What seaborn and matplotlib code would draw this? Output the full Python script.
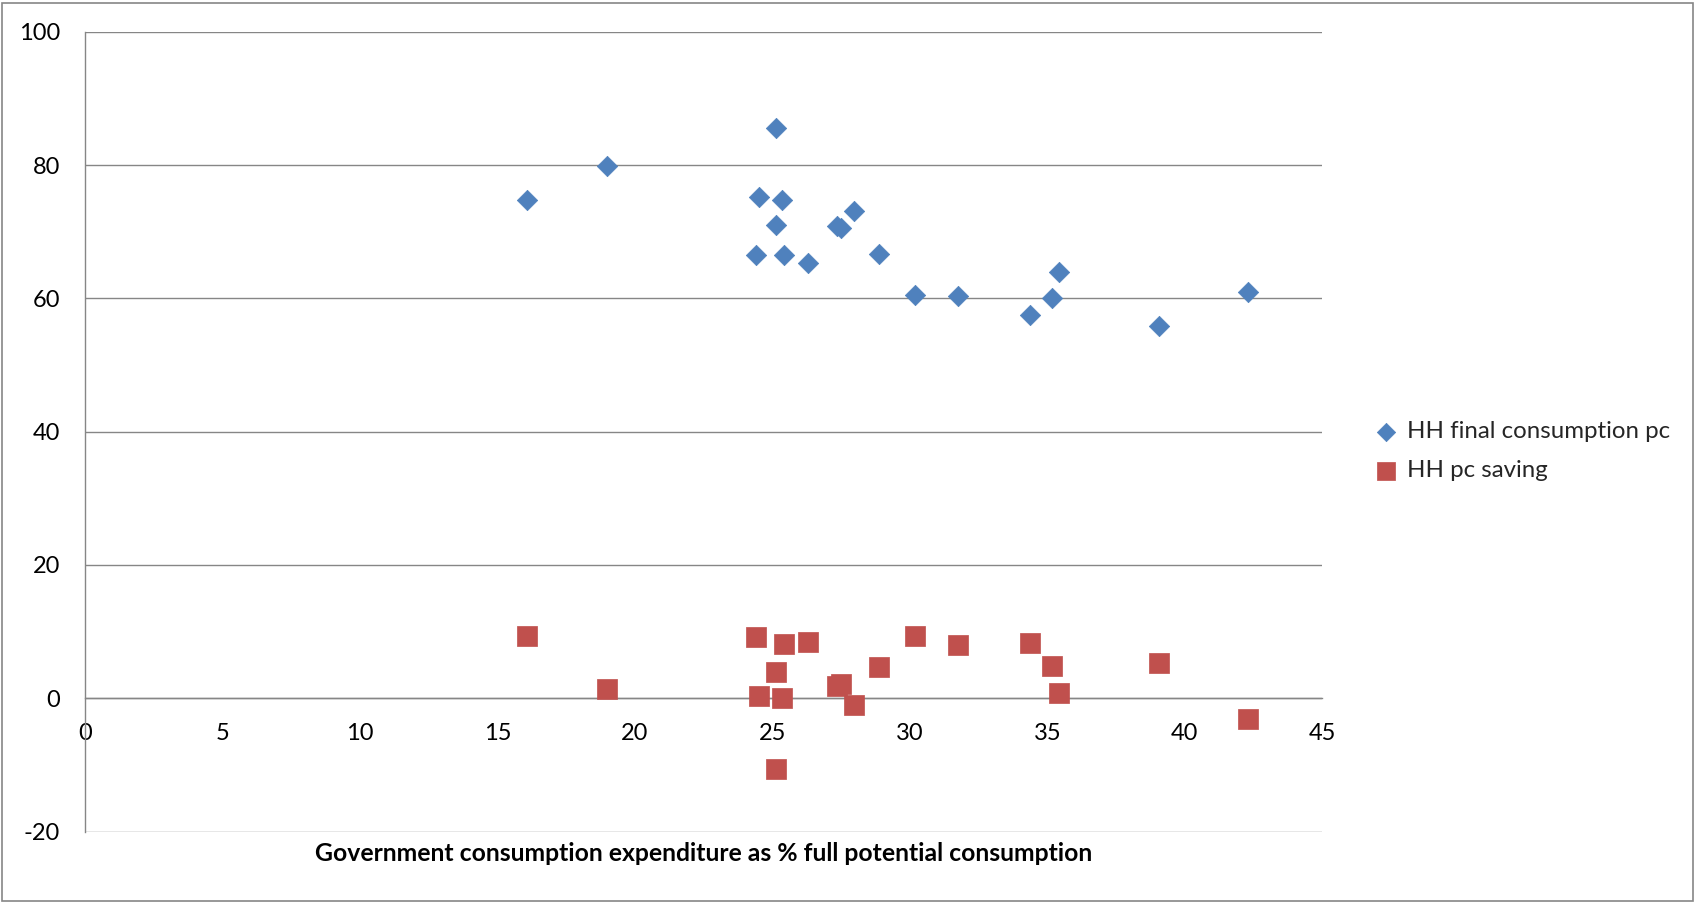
import matplotlib
matplotlib.use("Agg")
import matplotlib.pyplot as plt
from matplotlib.patches import Rectangle
import seaborn as sns
import pandas as pd

# Government consumption expenditure as % of full potential consumption
gov_share = [16.09, 18.98, 24.41, 24.50, 25.13, 25.12, 25.34, 25.41, 26.31, 27.34,
             27.50, 27.96, 28.87, 30.19, 31.75, 34.37, 35.16, 35.44, 39.05, 42.31]
# Household final consumption, % of full potential consumption
hh_consumption = [74.7, 79.9, 66.5, 75.2, 85.5, 71.0, 74.7, 66.5, 65.3, 70.8,
                  70.5, 73.1, 66.6, 60.5, 60.3, 57.5, 60.1, 63.9, 55.8, 60.9]
# Household saving, % of full potential consumption
hh_saving = [9.3, 1.35, 9.15, 0.35, 4.0, -10.6, 0.0, 8.15, 8.4, 1.85,
             2.1, -1.0, 4.65, 9.35, 8.05, 8.25, 4.9, 0.75, 5.25, -3.15]

x_ticks = [0, 5, 10, 15, 20, 25, 30, 35, 40, 45]
y_ticks = [-20, 0, 20, 40, 60, 80, 100]

series_names = ["HH final consumption pc", "HH pc saving"]
x_title = "Government consumption expenditure as % full potential consumption"

df = pd.DataFrame({"gov": gov_share, "cons": hh_consumption, "sav": hh_saving})

sns.set_theme(style="white")
plt.rcParams["font.family"] = ["Lato", "DejaVu Sans"]

BLUE = "#4F81BD"
RED = "#C0504D"
GRID = "#868686"

W, H = 1695, 902
fig = plt.figure(figsize=(W / 100, H / 100), dpi=100)
fig.patch.set_facecolor("white")

# plot area in pixel terms: x 0..45 spans 84.8..1322.3, y -20..100 spans 831.6..31.7
left, right, top, bottom = 84.8, 1322.3, 31.7, 831.6
ax = fig.add_axes([left / W, 1 - bottom / H, (right - left) / W, (bottom - top) / H])

sns.scatterplot(data=df, x="gov", y="cons", marker="D", s=108, color=BLUE,
                edgecolor=BLUE, linewidth=0.5, label=series_names[0], ax=ax, zorder=3)
sns.scatterplot(data=df, x="gov", y="sav", marker="s", s=210, color=RED,
                edgecolor=RED, linewidth=0.5, label=series_names[1], ax=ax, zorder=4)

ax.set_xlim(0, 45)
ax.set_ylim(-20, 100)
ax.set_xticks(x_ticks)
ax.set_yticks(y_ticks)
ax.set_xticklabels([str(t) for t in x_ticks])
ax.set_yticklabels([str(t) for t in y_ticks])

ax.yaxis.grid(True, color=GRID, linewidth=1.0)
ax.xaxis.grid(False)
ax.set_axisbelow(True)

for side in ("top", "right"):
    ax.spines[side].set_visible(False)
ax.spines["left"].set_color(GRID)
ax.spines["left"].set_linewidth(1.0)
ax.spines["bottom"].set_position(("data", 0))
ax.spines["bottom"].set_color(GRID)
ax.spines["bottom"].set_linewidth(1.0)

ax.tick_params(axis="both", length=0, labelsize=17, colors="black")
ax.tick_params(axis="x", pad=17.5)
ax.tick_params(axis="y", pad=18)

ax.set_ylabel("")
ax.set_xlabel(x_title, fontsize=17.8, fontweight="bold", color="black")
ax.xaxis.set_label_coords(0.5, -0.028)
ax.xaxis.label.set_verticalalignment("center")

ax.legend(loc="center left", bbox_to_anchor=(1373.5 / W, 1 - 451.4 / H),
          bbox_transform=fig.transFigure, frameon=False, fontsize=17.3,
          handlelength=1.0, handletextpad=0.4, labelspacing=0.75,
          borderpad=0, borderaxespad=0, markerscale=0.9)

# thin outer chart frame
fig.add_artist(Rectangle((1.7 / W, 1 - 900.7 / H), (1692.7 - 1.7) / W, (900.7 - 2.7) / H,
                         transform=fig.transFigure, fill=False, edgecolor=GRID, linewidth=1.2))

fig.savefig("out.png", dpi=100)
